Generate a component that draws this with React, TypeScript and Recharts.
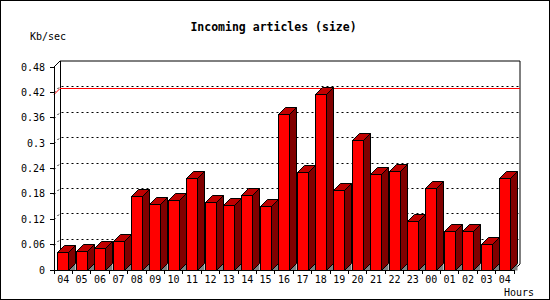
import { BarChart, Bar, XAxis, YAxis, ReferenceLine, ReferenceArea } from 'recharts';

const hours = ['04', '05', '06', '07', '08', '09', '10', '11', '12', '13', '14', '15', '16', '17', '18', '19', '20', '21', '22', '23', '00', '01', '02', '03', '04'];
const kbPerSec = [0.042, 0.044, 0.051, 0.068, 0.174, 0.156, 0.165, 0.217, 0.16, 0.153, 0.177, 0.151, 0.37, 0.231, 0.415, 0.188, 0.307, 0.226, 0.233, 0.115, 0.193, 0.092, 0.092, 0.061, 0.217];
const yTicks = [0, 0.06, 0.12, 0.18, 0.24, 0.3, 0.36, 0.42, 0.48];
const gridTicks = [0.06, 0.12, 0.18, 0.24, 0.3, 0.36, 0.42];

const W = 550;
const H = 300;
const MARGIN = { top: 67, right: 36, bottom: 0, left: 0 };
const Y_AXIS_W = 54;
const X_AXIS_H = 30;
const DEPTH = 6; // offset of the back wall
const BAR_DEPTH = 7;
const MONO = '"DejaVu Sans Mono", "Liberation Mono", monospace';

const bandWidth = (W - MARGIN.left - Y_AXIS_W - MARGIN.right) / hours.length;

const data = hours.map((h, i) => ({ idx: i, hour: h, value: kbPerSec[i] }));
const peak = Math.max(...kbPerSec);

function Bar3D(props: any) {
    const { width, height } = props;
    const x = Math.round(props.x - 0.6) + 0.5;
    const y = Math.round(props.y) + 0.5;
    const d = BAR_DEPTH;
    const b = Math.round(props.y + height) + 0.5;
    const w = Math.round(width);
    return (
        <g>
            <polygon
                points={`${x + w},${b} ${x + w + d},${b - d} ${x + w + d},${b}`}
                fill="#808080"
            />
            <polygon
                points={`${x},${y} ${x + d},${y - d} ${x + w + d},${y - d} ${x + w},${y}`}
                fill="#c00000"
                stroke="#000"
                strokeWidth={1}
            />
            <polygon
                points={`${x + w},${y} ${x + w + d},${y - d} ${x + w + d},${b - d} ${x + w},${b}`}
                fill="#800000"
                stroke="#000"
                strokeWidth={1}
            />
            <rect x={x} y={y} width={w} height={b - y} fill="#ff0000" stroke="#000" strokeWidth={1} />
        </g>
    );
}

function BackWall(props: any) {
    const { x, y, width, height } = props;
    const d = DEPTH;
    return (
        <g fill="none" stroke="#000" strokeWidth={1}>
            <path d={`M${x},${y} L${x + d},${y - d} L${x + width + d},${y - d} L${x + width + d},${y + height - d} L${x + width},${y + height}`} />
            <path d={`M${x + d},${y - d} L${x + d},${y + height - d}`} shapeRendering="crispEdges" />
        </g>
    );
}

function GridLine(props: any) {
    const { x1, y1, x2 } = props;
    const d = DEPTH;
    const yy = Math.round(y1) + 0.5;
    return (
        <path
            d={`M${x1},${yy} L${x1 + d},${yy - d} L${x2 + d},${yy - d}`}
            fill="none"
            stroke="#000"
            strokeWidth={1}
            strokeDasharray="2 3"
        />
    );
}

function PeakLine(props: any) {
    const { x1, y1, x2 } = props;
    const d = DEPTH;
    const yy = Math.round(y1) + 0.5;
    return (
        <path
            d={`M${x1},${yy} L${x1 + d},${yy - d} L${x2 + d},${yy - d}`}
            fill="none"
            stroke="#ff0000"
            strokeWidth={1}
        />
    );
}

function HourTick(props: any) {
    const { x, y, payload, index } = props;
    const half = bandWidth / 2;
    const top = y - 6;
    return (
        <g>
            <line x1={x - half} y1={top} x2={x - half} y2={top + 4} stroke="#000" shapeRendering="crispEdges" />
            {index === hours.length - 1 && (
                <line x1={x + half} y1={top} x2={x + half} y2={top + 4} stroke="#000" shapeRendering="crispEdges" />
            )}
            <text x={x} y={y + 7} textAnchor="middle" fontFamily={MONO} fontSize={10} fill="#000">
                {hours[payload.value]}
            </text>
        </g>
    );
}

export default function App() {
    return (
        <div style={{ position: 'absolute', left: 0, top: 0, width: W, height: H, background: '#fff' }}>
            <BarChart width={W} height={H} data={data} margin={MARGIN} barSize={11}>
                <ReferenceArea y1={0} y2={0.48} shape={BackWall} zIndex={-20} ifOverflow="visible" />
                {gridTicks.map((t) => (
                    <ReferenceLine key={t} y={t} shape={GridLine} zIndex={-10} ifOverflow="visible" />
                ))}
                <ReferenceLine y={peak} shape={PeakLine} zIndex={-5} ifOverflow="visible" />
                <XAxis
                    dataKey="idx"
                    type="category"
                    height={X_AXIS_H}
                    interval={0}
                    tickLine={false}
                    tickSize={4}
                    tickMargin={2}
                    axisLine={{ stroke: '#000', shapeRendering: 'crispEdges' }}
                    tick={HourTick}
                />
                <YAxis
                    width={Y_AXIS_W}
                    domain={[0, 0.48]}
                    ticks={yTicks}
                    interval={0}
                    tickSize={4}
                    tickMargin={5}
                    axisLine={{ stroke: '#000', shapeRendering: 'crispEdges' }}
                    tickLine={{ stroke: '#000', shapeRendering: 'crispEdges' }}
                    tick={{ fill: '#000', fontFamily: MONO, fontSize: 10 }}
                />
                <Bar dataKey="value" shape={Bar3D} isAnimationActive={false} />
            </BarChart>
            <svg width={W} height={H} style={{ position: 'absolute', left: 0, top: 0, pointerEvents: 'none' }}>
                <rect x={0.5} y={0.5} width={W - 1} height={H - 1} fill="none" stroke="#000" />
                <text x={273.5} y={31} textAnchor="middle" fontFamily={MONO} fontWeight="bold" fontSize={11.5} fill="#000">
                    Incoming articles (size)
                </text>
                <text x={30} y={40} fontFamily={MONO} fontSize={10} fill="#000">
                    Kb/sec
                </text>
                <text x={504} y={296} fontFamily={MONO} fontSize={10} fill="#000">
                    Hours
                </text>
            </svg>
        </div>
    );
}
